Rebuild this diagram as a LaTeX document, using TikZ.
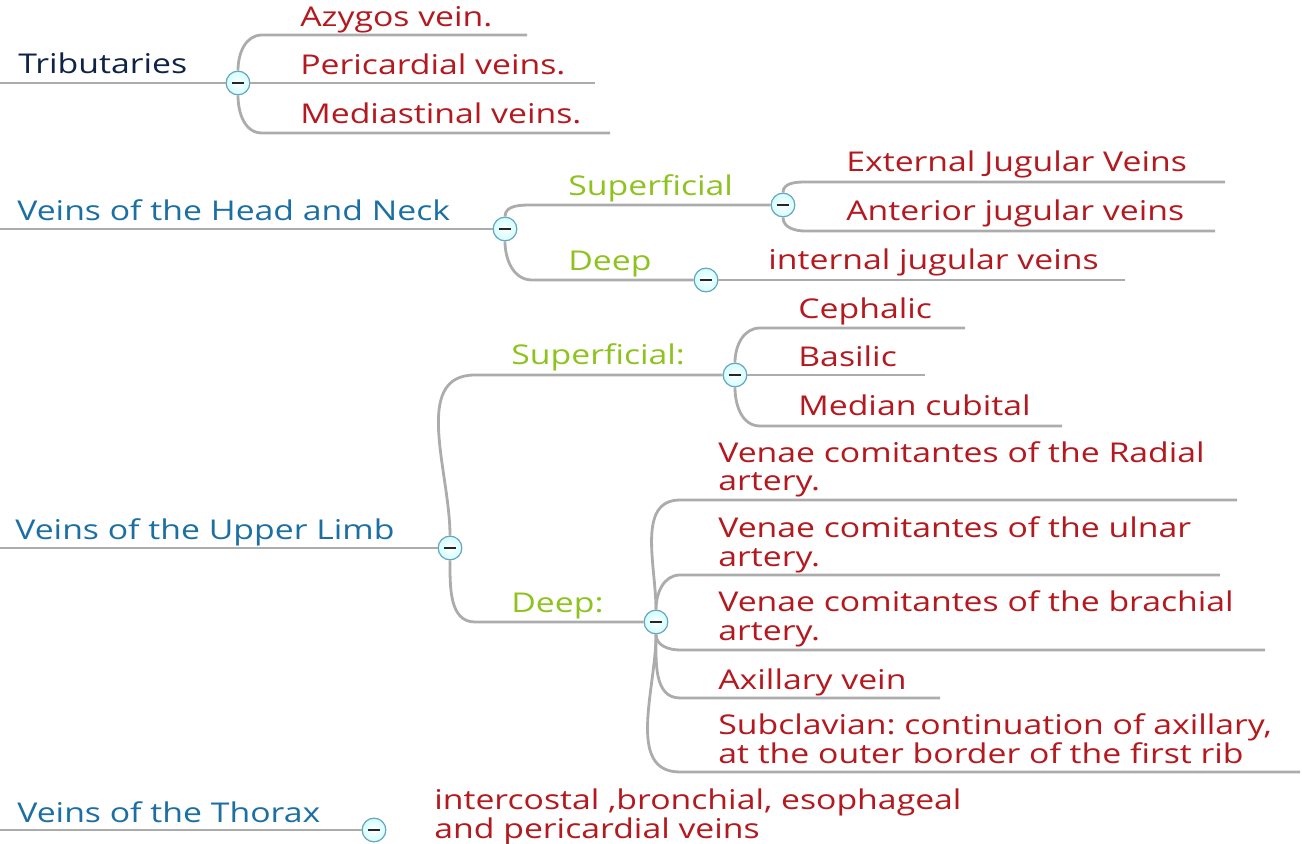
\documentclass[tikz,border=0pt]{standalone}
\usepackage{fontspec}
\setmainfont{Open Sans}[FakeStretch=1.24]
\frenchspacing
\definecolor{rootnavy}{HTML}{0F2346}
\definecolor{topicblue}{HTML}{1C6FA3}
\definecolor{subgreen}{HTML}{8DC21F}
\definecolor{leafred}{HTML}{B3191E}
\tikzset{
  branch/.style={draw=gray!65, line width=1.6pt},
  toggle/.style={circle, draw=gray!55!cyan, line width=0.7pt, inner color=white,
    outer color=cyan!18, minimum size=13.5pt, inner sep=0pt,
    path picture={\draw[line width=1.6pt, black!85]
      ([xshift=-3.6pt]path picture bounding box.center) -- ([xshift=3.6pt]path picture bounding box.center);}},
  label/.style={anchor=base west, inner sep=0pt, font=\fontsize{15.5}{16.5}\selectfont},
  topic/.style={label, text=topicblue},
  sub/.style={label, text=subgreen},
  leaf/.style={label, text=leafred, align=left},
}
\begin{document}
\begin{tikzpicture}[x=0.02cm, y=-0.02cm]
\useasboundingbox (0,0) rectangle (1302,844);

% Tributaries
\node[label, text=rootnavy] (trib-t) at (18,74) {Tributaries};
\node[toggle] (trib) at (238,83) {};
\coordinate (trib-in) at (0,83);
\draw[branch] (trib-in) -- (trib);
\coordinate (azy-a) at (262,35);  \coordinate (azy-b) at (527,35);
\coordinate (peri-b) at (595,83);
\coordinate (medi-a) at (262,133); \coordinate (medi-b) at (610,133);
\draw[branch] (trib) to[out=90,in=180] (azy-a) -- (azy-b);
\draw[branch] (trib) -- (peri-b);
\draw[branch] (trib) to[out=-90,in=180] (medi-a) -- (medi-b);
\node[leaf] (azy) at (300,27) {Azygos vein.};
\node[leaf] (peri) at (300,75) {Pericardial veins.};
\node[leaf] (medi) at (300,124) {Mediastinal veins.};

% Head and Neck
\node[topic] (hn-t) at (17,221) {Veins of the Head and Neck};
\node[toggle] (hn) at (505,229) {};
\node[toggle] (hn-sup) at (783,205) {};
\node[toggle] (hn-deep) at (706,280) {};
\coordinate (hn-in) at (0,229);
\coordinate (hn-sa) at (532,205);
\coordinate (hn-da) at (532,280);
\draw[branch] (hn-in) -- (hn);
\draw[branch] (hn) to[out=90,in=180] (hn-sa) -- (hn-sup);
\draw[branch] (hn) to[out=-90,in=180] (hn-da) -- (hn-deep);
\node[sub] (hn-sup-t) at (568,196) {Superficial};
\node[sub] (hn-deep-t) at (568,271) {Deep};
\coordinate (ext-a) at (805,182); \coordinate (ext-b) at (1225,182);
\coordinate (ant-a) at (805,231); \coordinate (ant-b) at (1215,231);
\coordinate (int-b) at (1125,280);
\draw[branch] (hn-sup) to[out=90,in=180] (ext-a) -- (ext-b);
\draw[branch] (hn-sup) to[out=-90,in=180] (ant-a) -- (ant-b);
\draw[branch] (hn-deep) -- (int-b);
\node[leaf] (ext) at (846,172) {External Jugular Veins};
\node[leaf] (ant) at (846,221) {Anterior jugular veins};
\node[leaf] (int) at (768,270) {internal jugular veins};

% Upper Limb
\node[topic] (ul-t) at (15,540) {Veins of the Upper Limb};
\node[toggle] (ul) at (450,548) {};
\node[toggle] (ul-sup) at (735,375) {};
\node[toggle] (ul-deep) at (656,622) {};
\coordinate (ul-in) at (0,548);
\coordinate (ul-sa) at (475,375);
\coordinate (ul-da) at (475,622);
\draw[branch] (ul-in) -- (ul);
\draw[branch] (ul) to[out=90,in=180] (ul-sa) -- (ul-sup);
\draw[branch] (ul) to[out=-90,in=180] (ul-da) -- (ul-deep);
\node[sub] (ul-sup-t) at (511,365) {Superficial:};
\node[sub] (ul-deep-t) at (511,612) {Deep:};
\coordinate (ceph-a) at (760,328); \coordinate (ceph-b) at (965,328);
\coordinate (basi-b) at (925,375);
\coordinate (medc-a) at (760,426); \coordinate (medc-b) at (1062,426);
\draw[branch] (ul-sup) to[out=90,in=180] (ceph-a) -- (ceph-b);
\draw[branch] (ul-sup) -- (basi-b);
\draw[branch] (ul-sup) to[out=-90,in=180] (medc-a) -- (medc-b);
\node[leaf] (ceph) at (798,319) {Cephalic};
\node[leaf] (basi) at (798,367) {Basilic};
\node[leaf] (medc) at (798,416) {Median cubital};
\coordinate (rad-a) at (680,500);  \coordinate (rad-b) at (1237,500);
\coordinate (uln-a) at (680,575);  \coordinate (uln-b) at (1220,575);
\coordinate (bra-a) at (680,650);  \coordinate (bra-b) at (1265,650);
\coordinate (axi-a) at (680,698);  \coordinate (axi-b) at (940,698);
\coordinate (scl-a) at (680,772);  \coordinate (scl-b) at (1300,772);
\draw[branch] (ul-deep) to[out=90,in=180] (rad-a) -- (rad-b);
\draw[branch] (ul-deep) to[out=90,in=180] (uln-a) -- (uln-b);
\draw[branch] (ul-deep) to[out=-90,in=180] (bra-a) -- (bra-b);
\draw[branch] (ul-deep) to[out=-90,in=180] (axi-a) -- (axi-b);
\draw[branch] (ul-deep) to[out=-90,in=180] (scl-a) -- (scl-b);
\node[leaf] (rad) at (718,491) {Venae comitantes of the Radial\\artery.};
\node[leaf] (uln) at (718,566) {Venae comitantes of the ulnar\\artery.};
\node[leaf] (bra) at (718,640) {Venae comitantes of the brachial\\artery.};
\node[leaf] (axi) at (718,689) {Axillary vein};
\node[leaf] (scl) at (718,763) {Subclavian: continuation of axillary,\\at the outer border of the first rib};

% Thorax
\node[topic] (th-t) at (17,822) {Veins of the Thorax};
\node[toggle] (th) at (374,830) {};
\coordinate (th-in) at (0,830);
\draw[branch] (th-in) -- (th);
\node[leaf] (th-l) at (434,838) {intercostal ,bronchial, esophageal\\and pericardial veins};
\end{tikzpicture}
\end{document}
